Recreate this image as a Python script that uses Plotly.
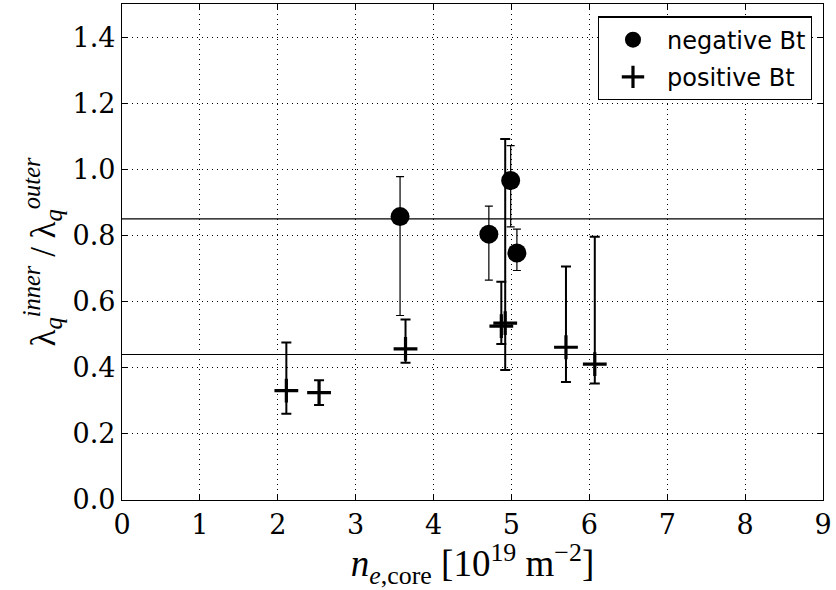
import plotly.graph_objects as go

# ---- data ----
neg_x = [3.57, 4.71, 4.99, 5.07]
neg_y = [0.857, 0.804, 0.966, 0.747]
neg_hi = [0.978, 0.889, 1.072, 0.819]
neg_lo = [0.558, 0.665, 0.826, 0.694]

pos_x = [2.11, 2.53, 3.64, 4.87, 4.92, 5.70, 6.07]
pos_y = [0.331, 0.325, 0.457, 0.526, 0.535, 0.462, 0.411]
pos_hi = [0.476, 0.362, 0.546, 0.660, 1.092, 0.706, 0.796]
pos_lo = [0.261, 0.287, 0.415, 0.472, 0.393, 0.357, 0.352]

ref_lines = [0.85, 0.44]
x_ticks = [0, 1, 2, 3, 4, 5, 6, 7, 8, 9]
y_ticks = [0.0, 0.2, 0.4, 0.6, 0.8, 1.0, 1.2, 1.4]

fig = go.Figure()

fig.add_trace(go.Scatter(
    x=neg_x, y=neg_y, mode="markers", name="negative Bt", legendgroup="neg",
    marker=dict(symbol="circle", size=19, color="black"),
    error_y=dict(type="data", symmetric=False,
                 array=[h - y for h, y in zip(neg_hi, neg_y)],
                 arrayminus=[y - l for l, y in zip(neg_lo, neg_y)],
                 color="black", thickness=1.2, width=4),
))

fig.add_trace(go.Scatter(
    x=pos_x, y=pos_y, mode="markers", name="positive Bt", legendgroup="pos",
    marker=dict(symbol="cross-thin", size=17, color="black",
                line=dict(color="black", width=3.2)),
    error_y=dict(type="data", symmetric=False,
                 array=[h - y for h, y in zip(pos_hi, pos_y)],
                 arrayminus=[y - l for l, y in zip(pos_lo, pos_y)],
                 color="black", thickness=2, width=5),
))

for v in ref_lines:
    fig.add_shape(type="line", xref="x", yref="y", x0=0, x1=9, y0=v, y1=v,
                  line=dict(color="black", width=1.2), layer="below")

axis_common = dict(
    showline=True, linecolor="black", linewidth=1.2, mirror="ticks",
    ticks="inside", ticklen=6, tickcolor="black",
    showgrid=True, gridcolor="black", gridwidth=1, griddash="1px,4px",
    zeroline=False,
    tickfont=dict(family="DejaVu Serif", size=27, color="black"),
)

fig.update_xaxes(
    range=[0, 9], tickvals=x_ticks, ticktext=[str(t) for t in x_ticks],
    title=dict(text="<i>n</i><sub><i>e</i>,core</sub> [10<sup>19</sup> m<sup>−2</sup>]",
               font=dict(family="Liberation Serif", size=37, color="black"),
               standoff=6),
    **axis_common,
)
fig.update_yaxes(
    range=[0, 1.5], tickvals=y_ticks, ticktext=[f"{t:.1f}" for t in y_ticks],
    title=dict(text="λ<sub><i>q</i></sub><sup><i>inner</i></sup> / λ<sub><i>q</i></sub><sup><i>outer</i></sup>",
               font=dict(family="Liberation Serif", size=35, color="black"),
               standoff=6),
    **axis_common,
)

fig.update_layout(
    width=836, height=590,
    margin=dict(l=122, r=13, t=4, b=90),
    paper_bgcolor="white", plot_bgcolor="white",
    showlegend=True,
    legend=dict(x=0.984, y=0.975, xanchor="right", yanchor="top",
                bgcolor="white", bordercolor="black", borderwidth=1.2,
                font=dict(family="DejaVu Sans", size=24, color="black"),
                itemwidth=58, tracegroupgap=3),
)

fig.write_html("out.html")
